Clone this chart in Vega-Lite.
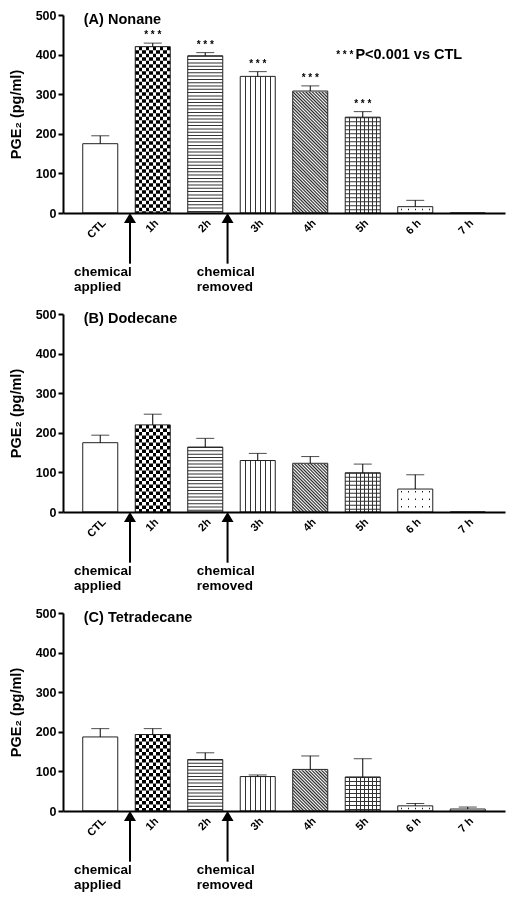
{
  "$schema": "https://vega.github.io/schema/vega-lite/v6.json",
  "background": "white",
  "padding": {"left": 8, "top": 9, "right": 5, "bottom": 5},
  "config": {
    "view": {"stroke": null},
    "font": "Liberation Sans",
    "axisY": {"labelOverlap": false, "tickCount": 10, "grid": false, "domainColor": "#000", "domainWidth": 2, "tickColor": "#000", "tickWidth": 2, "tickSize": 5, "labelFontSize": 12.5, "labelFontWeight": "bold", "labelColor": "#000", "labelPadding": 2, "titleFontSize": 14.5, "titleFontWeight": "bold", "titleColor": "#000", "titlePadding": 12, "zindex": 1}
  },
  "data": {"values": [
    {"panel": "A", "kind": "bar", "t": "CTL", "m": 175, "hi": 195, "sig": ""},
    {"panel": "A", "kind": "bar", "t": "1h", "m": 420, "hi": 429, "sig": "* * *"},
    {"panel": "A", "kind": "bar", "t": "2h", "m": 397, "hi": 405, "sig": "* * *"},
    {"panel": "A", "kind": "bar", "t": "3h", "m": 345, "hi": 357, "sig": "* * *"},
    {"panel": "A", "kind": "bar", "t": "4h", "m": 308, "hi": 321, "sig": "* * *"},
    {"panel": "A", "kind": "bar", "t": "5h", "m": 242, "hi": 256, "sig": "* * *"},
    {"panel": "A", "kind": "bar", "t": "6 h", "m": 16, "hi": 32, "sig": ""},
    {"panel": "A", "kind": "bar", "t": "7 h", "m": 0, "hi": 0, "sig": ""},
    {"panel": "B", "kind": "bar", "t": "CTL", "m": 175, "hi": 194, "sig": ""},
    {"panel": "B", "kind": "bar", "t": "1h", "m": 220, "hi": 247, "sig": ""},
    {"panel": "B", "kind": "bar", "t": "2h", "m": 164, "hi": 186, "sig": ""},
    {"panel": "B", "kind": "bar", "t": "3h", "m": 130, "hi": 148, "sig": ""},
    {"panel": "B", "kind": "bar", "t": "4h", "m": 123, "hi": 140, "sig": ""},
    {"panel": "B", "kind": "bar", "t": "5h", "m": 99, "hi": 121, "sig": ""},
    {"panel": "B", "kind": "bar", "t": "6 h", "m": 58, "hi": 94, "sig": ""},
    {"panel": "B", "kind": "bar", "t": "7 h", "m": 0, "hi": 0, "sig": ""},
    {"panel": "C", "kind": "bar", "t": "CTL", "m": 187, "hi": 208, "sig": ""},
    {"panel": "C", "kind": "bar", "t": "1h", "m": 193, "hi": 208, "sig": ""},
    {"panel": "C", "kind": "bar", "t": "2h", "m": 130, "hi": 147, "sig": ""},
    {"panel": "C", "kind": "bar", "t": "3h", "m": 87, "hi": 91, "sig": ""},
    {"panel": "C", "kind": "bar", "t": "4h", "m": 105, "hi": 139, "sig": ""},
    {"panel": "C", "kind": "bar", "t": "5h", "m": 86, "hi": 132, "sig": ""},
    {"panel": "C", "kind": "bar", "t": "6 h", "m": 13, "hi": 19, "sig": ""},
    {"panel": "C", "kind": "bar", "t": "7 h", "m": 5, "hi": 10, "sig": ""},
    {"panel": "A", "kind": "title", "label": "(A) Nonane"},
    {"panel": "B", "kind": "title", "label": "(B) Dodecane"},
    {"panel": "C", "kind": "title", "label": "(C) Tetradecane"},
    {"panel": "A", "kind": "legend", "label": "P<0.001 vs CTL"},
    {"panel": "A", "kind": "applied", "label": "chemical\napplied"},
    {"panel": "B", "kind": "applied", "label": "chemical\napplied"},
    {"panel": "C", "kind": "applied", "label": "chemical\napplied"},
    {"panel": "A", "kind": "removed", "label": "chemical\nremoved"},
    {"panel": "B", "kind": "removed", "label": "chemical\nremoved"},
    {"panel": "C", "kind": "removed", "label": "chemical\nremoved"}
  ]},
  "facet": {"row": {"field": "panel", "type": "nominal", "title": null, "header": {"labels": false, "title": null}}},
  "spacing": {"row": 101},
  "bounds": "flush",
  "resolve": {"axis": {"x": "independent", "y": "independent"}},
  "spec": {
    "width": 442,
    "height": 198,
    "encoding": {
      "x": {
        "field": "t", "type": "nominal",
        "scale": {"domain": ["CTL", "1h", "2h", "3h", "4h", "5h", "6 h", "7 h"], "paddingInner": 0.333, "paddingOuter": 0.376},
        "axis": {"title": null, "labelAngle": -45, "ticks": false, "domainWidth": 2, "domainColor": "#000", "labelFontSize": 11, "labelFontWeight": "bold", "labelColor": "#000", "labelPadding": 4, "zindex": 1}
      }
    },
    "layer": [
      {
        "transform": [{"filter": "datum.kind == 'bar'"}],
        "mark": {"type": "bar", "fill": "#fff", "strokeWidth": 0},
        "encoding": {
          "y": {"field": "m", "type": "quantitative", "scale": {"domain": [0, 500], "nice": false},
            "axis": {"title": "PGE₂ (pg/ml)", "values": [0, 100, 200, 300, 400, 500], "tickCount": 10}}
        }
      },
      {
        "transform": [{"filter": "datum.kind == 'bar' && datum.t == '1h'"}],
        "mark": {"type": "bar", "strokeWidth": 0, "fill": {"gradient": "linear", "x1": 0, "y1": 0, "x2": 1, "y2": 0, "stops": [
          {"offset": 0, "color": "#000"}, {"offset": 0.1, "color": "#000"}, {"offset": 0.1, "color": "#fff"}, {"offset": 0.2, "color": "#fff"},
          {"offset": 0.2, "color": "#000"}, {"offset": 0.3, "color": "#000"}, {"offset": 0.3, "color": "#fff"}, {"offset": 0.4, "color": "#fff"},
          {"offset": 0.4, "color": "#000"}, {"offset": 0.5, "color": "#000"}, {"offset": 0.5, "color": "#fff"}, {"offset": 0.6, "color": "#fff"},
          {"offset": 0.6, "color": "#000"}, {"offset": 0.7, "color": "#000"}, {"offset": 0.7, "color": "#fff"}, {"offset": 0.8, "color": "#fff"},
          {"offset": 0.8, "color": "#000"}, {"offset": 0.9, "color": "#000"}, {"offset": 0.9, "color": "#fff"}, {"offset": 1, "color": "#fff"}]}},
        "encoding": {"y": {"field": "m", "type": "quantitative", "axis": {"title": "PGE₂ (pg/ml)", "values": [0, 100, 200, 300, 400, 500], "tickCount": 10}}}
      },
      {
        "transform": [{"filter": "datum.kind == 'bar' && datum.t == '1h'"}],
        "mark": {"type": "rule", "stroke": "#fff", "strokeWidth": 35, "strokeDash": [3.5, 3.5], "blend": "difference"},
        "encoding": {"y": {"field": "m", "type": "quantitative", "axis": {"title": "PGE₂ (pg/ml)", "values": [0, 100, 200, 300, 400, 500], "tickCount": 10}}, "y2": {"datum": 0, "type": "quantitative"}}
      },
      {
        "transform": [{"filter": "datum.kind == 'bar' && datum.t == '2h'"}],
        "mark": {"type": "rule", "stroke": "#333", "strokeWidth": 35, "strokeDash": [1, 2.3]},
        "encoding": {"y": {"field": "m", "type": "quantitative", "axis": {"title": "PGE₂ (pg/ml)", "values": [0, 100, 200, 300, 400, 500], "tickCount": 10}}, "y2": {"datum": 0, "type": "quantitative"}}
      },
      {
        "transform": [{"filter": "datum.kind == 'bar' && datum.t == '3h'"}],
        "mark": {"type": "bar", "strokeWidth": 0, "fill": {"gradient": "linear", "x1": 0, "y1": 0, "x2": 1, "y2": 0, "stops": [
          {"offset": 0, "color": "#fff"}, {"offset": 0.129, "color": "#fff"}, {"offset": 0.129, "color": "#333"}, {"offset": 0.157, "color": "#333"}, {"offset": 0.157, "color": "#fff"},
          {"offset": 0.272, "color": "#fff"}, {"offset": 0.272, "color": "#333"}, {"offset": 0.3, "color": "#333"}, {"offset": 0.3, "color": "#fff"},
          {"offset": 0.415, "color": "#fff"}, {"offset": 0.415, "color": "#333"}, {"offset": 0.443, "color": "#333"}, {"offset": 0.443, "color": "#fff"},
          {"offset": 0.557, "color": "#fff"}, {"offset": 0.557, "color": "#333"}, {"offset": 0.585, "color": "#333"}, {"offset": 0.585, "color": "#fff"},
          {"offset": 0.7, "color": "#fff"}, {"offset": 0.7, "color": "#333"}, {"offset": 0.728, "color": "#333"}, {"offset": 0.728, "color": "#fff"},
          {"offset": 0.843, "color": "#fff"}, {"offset": 0.843, "color": "#333"}, {"offset": 0.871, "color": "#333"}, {"offset": 0.871, "color": "#fff"},
          {"offset": 1, "color": "#fff"}]}},
        "encoding": {"y": {"field": "m", "type": "quantitative", "axis": {"title": "PGE₂ (pg/ml)", "values": [0, 100, 200, 300, 400, 500], "tickCount": 10}}}
      },
      {
        "transform": [{"filter": "datum.kind == 'bar' && datum.t == '4h'"}],
        "mark": {"type": "bar", "strokeWidth": 0, "fill": {"gradient": "linear", "x1": 0, "y1": 1, "x2": 0.3275, "y2": -0.1857, "stops": [
          {"offset": 0, "color": "#fff"}, {"offset": 0.01, "color": "#222"}, {"offset": 0.02, "color": "#fff"}, {"offset": 0.03, "color": "#222"}, {"offset": 0.04, "color": "#fff"},
          {"offset": 0.05, "color": "#222"}, {"offset": 0.06, "color": "#fff"}, {"offset": 0.07, "color": "#222"}, {"offset": 0.08, "color": "#fff"}, {"offset": 0.09, "color": "#222"},
          {"offset": 0.1, "color": "#fff"}, {"offset": 0.11, "color": "#222"}, {"offset": 0.12, "color": "#fff"}, {"offset": 0.13, "color": "#222"}, {"offset": 0.14, "color": "#fff"},
          {"offset": 0.15, "color": "#222"}, {"offset": 0.16, "color": "#fff"}, {"offset": 0.17, "color": "#222"}, {"offset": 0.18, "color": "#fff"}, {"offset": 0.19, "color": "#222"},
          {"offset": 0.2, "color": "#fff"}, {"offset": 0.21, "color": "#222"}, {"offset": 0.22, "color": "#fff"}, {"offset": 0.23, "color": "#222"}, {"offset": 0.24, "color": "#fff"},
          {"offset": 0.25, "color": "#222"}, {"offset": 0.26, "color": "#fff"}, {"offset": 0.27, "color": "#222"}, {"offset": 0.28, "color": "#fff"}, {"offset": 0.29, "color": "#222"},
          {"offset": 0.3, "color": "#fff"}, {"offset": 0.31, "color": "#222"}, {"offset": 0.32, "color": "#fff"}, {"offset": 0.33, "color": "#222"}, {"offset": 0.34, "color": "#fff"},
          {"offset": 0.35, "color": "#222"}, {"offset": 0.36, "color": "#fff"}, {"offset": 0.37, "color": "#222"}, {"offset": 0.38, "color": "#fff"}, {"offset": 0.39, "color": "#222"},
          {"offset": 0.4, "color": "#fff"}, {"offset": 0.41, "color": "#222"}, {"offset": 0.42, "color": "#fff"}, {"offset": 0.43, "color": "#222"}, {"offset": 0.44, "color": "#fff"},
          {"offset": 0.45, "color": "#222"}, {"offset": 0.46, "color": "#fff"}, {"offset": 0.47, "color": "#222"}, {"offset": 0.48, "color": "#fff"}, {"offset": 0.49, "color": "#222"},
          {"offset": 0.5, "color": "#fff"}, {"offset": 0.51, "color": "#222"}, {"offset": 0.52, "color": "#fff"}, {"offset": 0.53, "color": "#222"}, {"offset": 0.54, "color": "#fff"},
          {"offset": 0.55, "color": "#222"}, {"offset": 0.56, "color": "#fff"}, {"offset": 0.57, "color": "#222"}, {"offset": 0.58, "color": "#fff"}, {"offset": 0.59, "color": "#222"},
          {"offset": 0.6, "color": "#fff"}, {"offset": 0.61, "color": "#222"}, {"offset": 0.62, "color": "#fff"}, {"offset": 0.63, "color": "#222"}, {"offset": 0.64, "color": "#fff"},
          {"offset": 0.65, "color": "#222"}, {"offset": 0.66, "color": "#fff"}, {"offset": 0.67, "color": "#222"}, {"offset": 0.68, "color": "#fff"}, {"offset": 0.69, "color": "#222"},
          {"offset": 0.7, "color": "#fff"}, {"offset": 0.71, "color": "#222"}, {"offset": 0.72, "color": "#fff"}, {"offset": 0.73, "color": "#222"}, {"offset": 0.74, "color": "#fff"},
          {"offset": 0.75, "color": "#222"}, {"offset": 0.76, "color": "#fff"}, {"offset": 0.77, "color": "#222"}, {"offset": 0.78, "color": "#fff"}, {"offset": 0.79, "color": "#222"},
          {"offset": 0.8, "color": "#fff"}, {"offset": 0.81, "color": "#222"}, {"offset": 0.82, "color": "#fff"}, {"offset": 0.83, "color": "#222"}, {"offset": 0.84, "color": "#fff"},
          {"offset": 0.85, "color": "#222"}, {"offset": 0.86, "color": "#fff"}, {"offset": 0.87, "color": "#222"}, {"offset": 0.88, "color": "#fff"}, {"offset": 0.89, "color": "#222"},
          {"offset": 0.9, "color": "#fff"}, {"offset": 0.91, "color": "#222"}, {"offset": 0.92, "color": "#fff"}, {"offset": 0.93, "color": "#222"}, {"offset": 0.94, "color": "#fff"},
          {"offset": 0.95, "color": "#222"}, {"offset": 0.96, "color": "#fff"}, {"offset": 0.97, "color": "#222"}, {"offset": 0.98, "color": "#fff"}, {"offset": 0.99, "color": "#222"},
          {"offset": 1, "color": "#fff"}]}},
        "encoding": {"y": {"datum": 320, "type": "quantitative", "axis": {"title": "PGE₂ (pg/ml)", "values": [0, 100, 200, 300, 400, 500], "tickCount": 10}}, "y2": {"datum": 0, "type": "quantitative"}}
      },
      {
        "transform": [{"filter": "datum.kind == 'bar' && datum.t == '4h'"}],
        "mark": {"type": "bar", "fill": "#fff", "stroke": "#fff", "strokeWidth": 1.5},
        "encoding": {"y": {"field": "m", "type": "quantitative", "axis": {"title": "PGE₂ (pg/ml)", "values": [0, 100, 200, 300, 400, 500], "tickCount": 10}}, "y2": {"datum": 320, "type": "quantitative"}}
      },
      {
        "transform": [{"filter": "datum.kind == 'bar' && datum.t == '5h'"}],
        "mark": {"type": "bar", "strokeWidth": 0, "fill": {"gradient": "linear", "x1": 0, "y1": 0, "x2": 1, "y2": 0, "stops": [
          {"offset": 0, "color": "#fff"}, {"offset": 0.098, "color": "#fff"}, {"offset": 0.098, "color": "#333"}, {"offset": 0.124, "color": "#333"}, {"offset": 0.124, "color": "#fff"},
          {"offset": 0.209, "color": "#fff"}, {"offset": 0.209, "color": "#333"}, {"offset": 0.235, "color": "#333"}, {"offset": 0.235, "color": "#fff"},
          {"offset": 0.32, "color": "#fff"}, {"offset": 0.32, "color": "#333"}, {"offset": 0.346, "color": "#333"}, {"offset": 0.346, "color": "#fff"},
          {"offset": 0.431, "color": "#fff"}, {"offset": 0.431, "color": "#333"}, {"offset": 0.457, "color": "#333"}, {"offset": 0.457, "color": "#fff"},
          {"offset": 0.543, "color": "#fff"}, {"offset": 0.543, "color": "#333"}, {"offset": 0.569, "color": "#333"}, {"offset": 0.569, "color": "#fff"},
          {"offset": 0.654, "color": "#fff"}, {"offset": 0.654, "color": "#333"}, {"offset": 0.68, "color": "#333"}, {"offset": 0.68, "color": "#fff"},
          {"offset": 0.765, "color": "#fff"}, {"offset": 0.765, "color": "#333"}, {"offset": 0.791, "color": "#333"}, {"offset": 0.791, "color": "#fff"},
          {"offset": 0.876, "color": "#fff"}, {"offset": 0.876, "color": "#333"}, {"offset": 0.902, "color": "#333"}, {"offset": 0.902, "color": "#fff"},
          {"offset": 1, "color": "#fff"}]}},
        "encoding": {"y": {"field": "m", "type": "quantitative", "axis": {"title": "PGE₂ (pg/ml)", "values": [0, 100, 200, 300, 400, 500], "tickCount": 10}}}
      },
      {
        "transform": [{"filter": "datum.kind == 'bar' && datum.t == '5h'"}],
        "mark": {"type": "rule", "stroke": "#333", "strokeWidth": 35, "strokeDash": [1, 3]},
        "encoding": {"y": {"field": "m", "type": "quantitative", "axis": {"title": "PGE₂ (pg/ml)", "values": [0, 100, 200, 300, 400, 500], "tickCount": 10}}, "y2": {"datum": 0, "type": "quantitative"}}
      },
      {
        "transform": [{"filter": "datum.kind == 'bar' && (datum.t == '6 h' || datum.t == '7 h')"}],
        "mark": {"type": "bar", "strokeWidth": 0, "fill": {"gradient": "linear", "x1": 0, "y1": 0, "x2": 1, "y2": 0, "stops": [
          {"offset": 0, "color": "#fff"}, {"offset": 0.08, "color": "#fff"}, {"offset": 0.08, "color": "#222"}, {"offset": 0.12, "color": "#222"}, {"offset": 0.12, "color": "#fff"},
          {"offset": 0.28, "color": "#fff"}, {"offset": 0.28, "color": "#222"}, {"offset": 0.32, "color": "#222"}, {"offset": 0.32, "color": "#fff"},
          {"offset": 0.48, "color": "#fff"}, {"offset": 0.48, "color": "#222"}, {"offset": 0.52, "color": "#222"}, {"offset": 0.52, "color": "#fff"},
          {"offset": 0.68, "color": "#fff"}, {"offset": 0.68, "color": "#222"}, {"offset": 0.72, "color": "#222"}, {"offset": 0.72, "color": "#fff"},
          {"offset": 0.88, "color": "#fff"}, {"offset": 0.88, "color": "#222"}, {"offset": 0.92, "color": "#222"}, {"offset": 0.92, "color": "#fff"},
          {"offset": 1, "color": "#fff"}]}},
        "encoding": {"y": {"field": "m", "type": "quantitative", "axis": {"title": "PGE₂ (pg/ml)", "values": [0, 100, 200, 300, 400, 500], "tickCount": 10}}}
      },
      {
        "transform": [{"filter": "datum.kind == 'bar' && (datum.t == '6 h' || datum.t == '7 h')"}],
        "mark": {"type": "rule", "stroke": "#fff", "strokeWidth": 35, "strokeDash": [2, 1.5, 4, 0]},
        "encoding": {"y": {"field": "m", "type": "quantitative", "axis": {"title": "PGE₂ (pg/ml)", "values": [0, 100, 200, 300, 400, 500], "tickCount": 10}}, "y2": {"datum": 0, "type": "quantitative"}}
      },
      {
        "transform": [{"filter": "datum.kind == 'bar'"}],
        "mark": {"type": "bar", "fill": "transparent", "stroke": "#222", "strokeWidth": 1},
        "encoding": {"y": {"field": "m", "type": "quantitative", "axis": {"title": "PGE₂ (pg/ml)", "values": [0, 100, 200, 300, 400, 500], "tickCount": 10}}}
      },
      {
        "transform": [{"filter": "datum.kind == 'bar' && datum.hi > datum.m"}],
        "mark": {"type": "rule", "stroke": "#000", "strokeWidth": 1},
        "encoding": {"y": {"field": "m", "type": "quantitative", "axis": {"title": "PGE₂ (pg/ml)", "values": [0, 100, 200, 300, 400, 500], "tickCount": 10}}, "y2": {"field": "hi"}}
      },
      {
        "transform": [{"filter": "datum.kind == 'bar' && datum.hi > datum.m"}],
        "mark": {"type": "tick", "color": "#000", "size": 18, "thickness": 1},
        "encoding": {"y": {"field": "hi", "type": "quantitative", "axis": {"title": "PGE₂ (pg/ml)", "values": [0, 100, 200, 300, 400, 500], "tickCount": 10}}}
      },
      {
        "transform": [{"filter": "datum.kind == 'bar' && datum.sig != ''"}],
        "mark": {"type": "text", "fontSize": 10, "fontWeight": "bold", "color": "#000", "baseline": "alphabetic", "dy": -5},
        "encoding": {"y": {"field": "hi", "type": "quantitative", "axis": {"title": "PGE₂ (pg/ml)", "values": [0, 100, 200, 300, 400, 500], "tickCount": 10}}, "text": {"field": "sig"}}
      },
      {
        "transform": [{"filter": "datum.kind == 'title'"}],
        "mark": {"type": "text", "fontSize": 14.5, "fontWeight": "bold", "color": "#000", "align": "left", "baseline": "middle"},
        "encoding": {"x": {"datum": "CTL", "type": "nominal", "bandPosition": 0.03}, "y": {"datum": 488, "type": "quantitative", "axis": {"title": "PGE₂ (pg/ml)", "values": [0, 100, 200, 300, 400, 500], "tickCount": 10}}, "text": {"field": "label"}}
      },
      {
        "transform": [{"filter": "datum.kind == 'legend'"}],
        "mark": {"type": "text", "fontSize": 10, "fontWeight": "bold", "color": "#000", "align": "right", "baseline": "middle", "dx": -2},
        "encoding": {"x": {"datum": "5h", "type": "nominal", "bandPosition": 0.29}, "y": {"datum": 398, "type": "quantitative", "axis": {"title": "PGE₂ (pg/ml)", "values": [0, 100, 200, 300, 400, 500], "tickCount": 10}}, "text": {"value": "* * *"}}
      },
      {
        "transform": [{"filter": "datum.kind == 'legend'"}],
        "mark": {"type": "text", "fontSize": 14.5, "fontWeight": "bold", "color": "#000", "align": "left", "baseline": "middle"},
        "encoding": {"x": {"datum": "5h", "type": "nominal", "bandPosition": 0.29}, "y": {"datum": 398, "type": "quantitative", "axis": {"title": "PGE₂ (pg/ml)", "values": [0, 100, 200, 300, 400, 500], "tickCount": 10}}, "text": {"field": "label"}}
      },
      {
        "transform": [{"filter": "datum.kind == 'applied'"}],
        "mark": {"type": "rule", "stroke": "#000", "strokeWidth": 2},
        "encoding": {"x": {"datum": "1h", "type": "nominal", "bandPosition": -0.15}, "y": {"datum": -20, "type": "quantitative", "axis": {"title": "PGE₂ (pg/ml)", "values": [0, 100, 200, 300, 400, 500], "tickCount": 10}}, "y2": {"datum": -128, "type": "quantitative"}}
      },
      {
        "transform": [{"filter": "datum.kind == 'applied'"}],
        "mark": {"type": "point", "shape": "M0,-1L1.2,1L-1.2,1Z", "size": 100, "filled": true, "color": "#000", "opacity": 1},
        "encoding": {"x": {"datum": "1h", "type": "nominal", "bandPosition": -0.15}, "y": {"datum": -12.6, "type": "quantitative", "axis": {"title": "PGE₂ (pg/ml)", "values": [0, 100, 200, 300, 400, 500], "tickCount": 10}}}
      },
      {
        "transform": [{"filter": "datum.kind == 'removed'"}],
        "mark": {"type": "rule", "stroke": "#000", "strokeWidth": 2},
        "encoding": {"x": {"datum": "2h", "type": "nominal", "bandPosition": 1.137}, "y": {"datum": -20, "type": "quantitative", "axis": {"title": "PGE₂ (pg/ml)", "values": [0, 100, 200, 300, 400, 500], "tickCount": 10}}, "y2": {"datum": -128, "type": "quantitative"}}
      },
      {
        "transform": [{"filter": "datum.kind == 'removed'"}],
        "mark": {"type": "point", "shape": "M0,-1L1.2,1L-1.2,1Z", "size": 100, "filled": true, "color": "#000", "opacity": 1},
        "encoding": {"x": {"datum": "2h", "type": "nominal", "bandPosition": 1.137}, "y": {"datum": -12.6, "type": "quantitative", "axis": {"title": "PGE₂ (pg/ml)", "values": [0, 100, 200, 300, 400, 500], "tickCount": 10}}}
      },
      {
        "transform": [{"filter": "datum.kind == 'applied'"}],
        "mark": {"type": "text", "fontSize": 13.5, "fontWeight": "bold", "color": "#000", "align": "left", "baseline": "top", "lineBreak": "\n", "lineHeight": 15},
        "encoding": {"x": {"datum": "CTL", "type": "nominal", "bandPosition": -0.25}, "y": {"datum": -131, "type": "quantitative", "axis": {"title": "PGE₂ (pg/ml)", "values": [0, 100, 200, 300, 400, 500], "tickCount": 10}}, "text": {"field": "label"}}
      },
      {
        "transform": [{"filter": "datum.kind == 'removed'"}],
        "mark": {"type": "text", "fontSize": 13.5, "fontWeight": "bold", "color": "#000", "align": "left", "baseline": "top", "lineBreak": "\n", "lineHeight": 15},
        "encoding": {"x": {"datum": "2h", "type": "nominal", "bandPosition": 0.26}, "y": {"datum": -131, "type": "quantitative", "axis": {"title": "PGE₂ (pg/ml)", "values": [0, 100, 200, 300, 400, 500], "tickCount": 10}}, "text": {"field": "label"}}
      }
    ]
  }
}
